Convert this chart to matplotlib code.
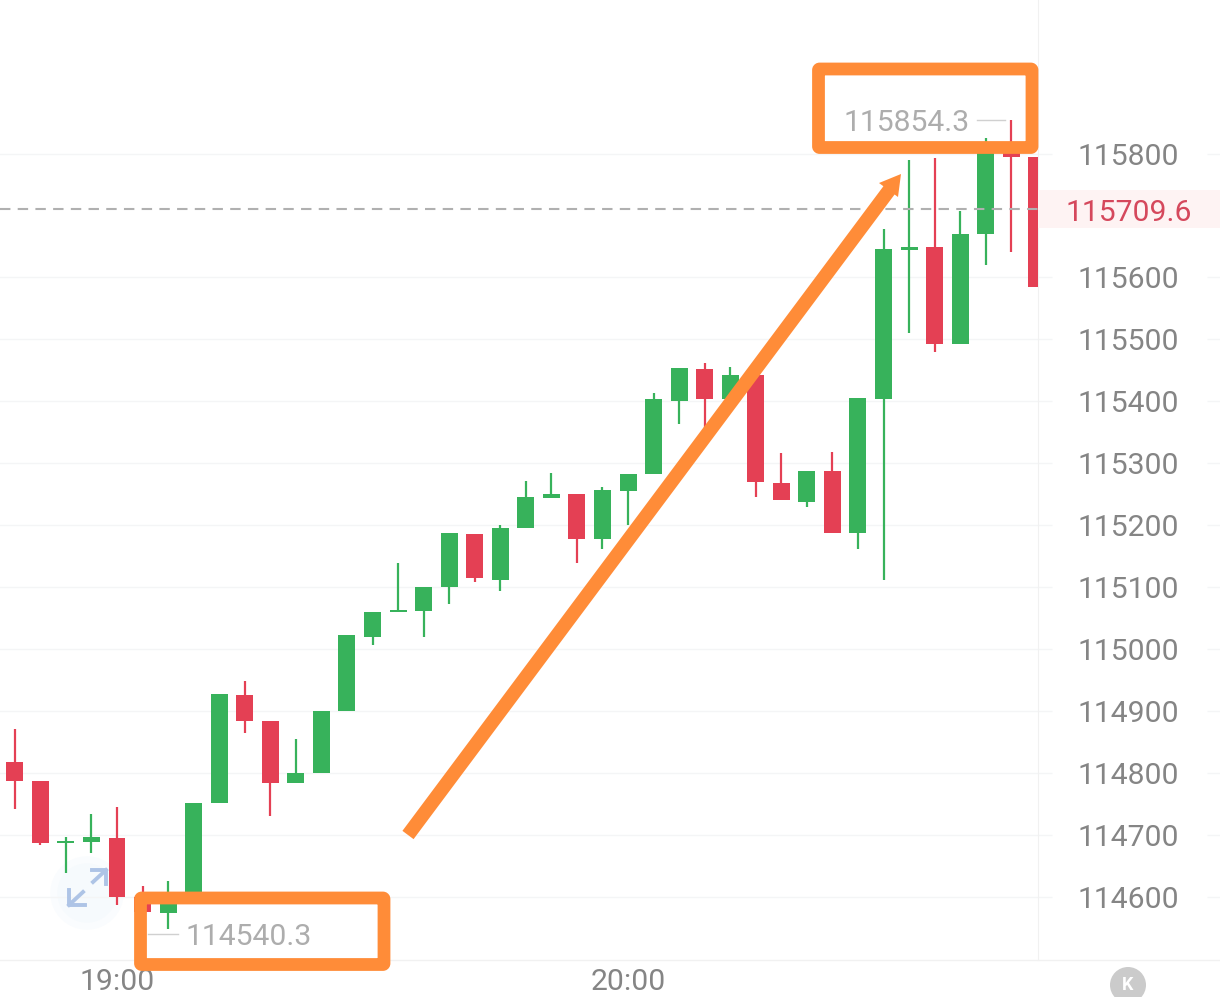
import matplotlib
matplotlib.use("Agg")
import matplotlib.pyplot as plt
from matplotlib.patches import Circle, FancyBboxPatch, Polygon, Rectangle

# candles, 3 min each, index 4 = 19:00 and index 24 = 20:00
opens = [114818, 114786, 114687, 114688, 114694, 114599, 114573, 114599, 114751, 114925,
         114883, 114783, 114799, 114899, 115020, 115060, 115061, 115100, 115185, 115112,
         115196, 115243, 115250, 115177, 115255, 115282, 115401, 115452, 115403, 115442,
         115268, 115238, 115287, 115188, 115403, 115644, 115649, 115492, 115670, 115801,
         115794]
closes = [114786, 114686, 114690, 114696, 114599, 114575, 114588, 114751, 114927, 114883,
          114783, 114799, 114899, 115022, 115059, 115063, 115100, 115187, 115114, 115196,
          115245, 115250, 115177, 115256, 115282, 115403, 115453, 115403, 115442, 115269,
          115240, 115288, 115188, 115405, 115645, 115649, 115492, 115670, 115805, 115794,
          115584]
highs = [114870, 114786, 114696, 114734, 114744, 114618, 114625, 114751, 114927, 114949,
         114883, 114854, 114899, 115022, 115059, 115138, 115100, 115187, 115185, 115200,
         115271, 115284, 115250, 115261, 115282, 115414, 115453, 115461, 115455, 115442,
         115316, 115288, 115318, 115405, 115678, 115789, 115792, 115707, 115825, 115854,
         115794]
lows = [114741, 114683, 114639, 114670, 114586, 114575, 114547, 114599, 114751, 114864,
        114731, 114783, 114799, 114899, 115007, 115060, 115019, 115072, 115108, 115093,
        115196, 115243, 115138, 115162, 115200, 115282, 115364, 115356, 115403, 115245,
        115240, 115229, 115188, 115161, 115112, 115510, 115479, 115492, 115620, 115641,
        115584]

price_ticks = [114600, 114700, 114800, 114900, 115000, 115100, 115200, 115300, 115400,
               115500, 115600, 115800]
time_ticks = [4, 24]
time_labels = ["19:00", "20:00"]
last_price = 115709.6
low_label = "114540.3"
high_label = "115854.3"

GREEN = "#37b25b"
RED = "#e44054"
ORANGE = "#ff8c38"
GRID = "#f4f5f6"

W, H = 1220, 997
plt.rcParams["font.family"] = ["Roboto", "DejaVu Sans"]
plt.rcParams["font.size"] = 21.7

fig = plt.figure(figsize=(W / 100, H / 100), dpi=100, facecolor="white")

# chart area is 0-1038 px wide, 0-960 px high
ax = fig.add_axes([0, 1 - 960 / H, 1038 / W, 960 / H])
ax.patch.set_visible(False)
ax.set_xlim(4 - 117 / 25.55, 4 + 921 / 25.55)
ax.set_ylim(115800 - 806.5 / 0.6193, 115800 + 153.5 / 0.6193)

# pixel overlay for the things drawn by hand on top of the screenshot
ov = fig.add_axes([0, 0, 1, 1], zorder=5)
ov.set_xlim(0, W)
ov.set_ylim(H, 0)
ov.axis("off")

# grid + axis frame
for s in ["top", "left"]:
    ax.spines[s].set_visible(False)
ax.spines["right"].set_color("#f1f1f1")
ax.spines["bottom"].set_visible(False)
ax.yaxis.tick_right()
ax.set_yticks(price_ticks)
ax.set_yticklabels([str(p) for p in price_ticks], color="#858585")
ax.tick_params(axis="y", length=0, pad=28.5)
ax.set_xticks(time_ticks)
ax.set_xticklabels(time_labels, color="#858585")
ax.tick_params(axis="x", length=0, pad=6)
ax.grid(axis="y", color=GRID, lw=1)
ax.set_axisbelow(True)
tr = ax.get_yaxis_transform()
ax.hlines(price_ticks, 1, 1052 / 1038, color=GRID, lw=1, transform=tr, clip_on=False)
ax.hlines(price_ticks, 1207 / 1038, W / 1038, color=GRID, lw=1, transform=tr, clip_on=False)
ov.plot([0, W], [960, 960], color="#f1f1f1", lw=1, zorder=0.5)

# expand icon sits under the candles
ax.add_patch(Circle((87, 893), 36, color="#fafcfe", transform=ov.transData, zorder=0.4))
ax.add_patch(Circle((87, 893), 29, color="#f6fafd", transform=ov.transData, zorder=0.5))
for pts in [[(92, 870), (106, 870), (106, 884)], [(106, 870), (93, 882)],
            [(69, 890), (69, 905), (85, 905)], [(69, 905), (83, 892)]]:
    ax.plot([p[0] for p in pts], [p[1] for p in pts], color="#aec4e6", lw=2.8,
            transform=ov.transData, zorder=0.6, clip_on=False)

# candles
for i in range(len(opens)):
    c = GREEN if closes[i] >= opens[i] else RED
    ax.vlines(i, lows[i], highs[i], color=c, lw=1.6, zorder=2)
    ax.bar(i, abs(closes[i] - opens[i]), bottom=min(opens[i], closes[i]), width=17 / 25.55,
           color=c, zorder=3)

ax.axhline(last_price, color="#b0b0b0", lw=1.5, dashes=(5, 3.5), zorder=4)

# last price tag
ov.add_patch(Rectangle((1038, 190), 182, 38, color="#fef3f3", lw=0))
ov.text(1129, 210, "%.1f" % last_price, color="#d5485c", ha="center", va="center_baseline")

# low / high labels
ov.plot([148, 178], [934, 934], color="#d0d0d0", lw=1)
ov.text(186, 934, low_label, color="#adadad", ha="left", va="center_baseline")
ov.plot([977, 1005], [120, 120], color="#d0d0d0", lw=1)
ov.text(970, 120, high_label, color="#adadad", ha="right", va="center_baseline")

# orange boxes and arrow
for x0, y0, x1, y1 in [(140.5, 898, 384, 964.5), (818.5, 69, 1032, 147.5)]:
    ov.add_patch(FancyBboxPatch((x0, y0), x1 - x0, y1 - y0, boxstyle="round,pad=0,rounding_size=1",
                                fc="none", ec=ORANGE, lw=9.2, joinstyle="round", zorder=3))
ov.plot([408, 893], [835, 185], color=ORANGE, lw=10, solid_capstyle="butt", zorder=3)
ov.add_patch(Polygon([(901, 174), (879, 183), (898, 197)], color=ORANGE, lw=0, zorder=3))

# K button bottom right
ov.add_patch(Circle((1128, 985), 18, color="#cbcbcb", lw=0))
ov.text(1128, 985, "K", color="white", fontsize=13, fontweight="bold", ha="center", va="center")

fig.savefig("out.png", dpi=100)
